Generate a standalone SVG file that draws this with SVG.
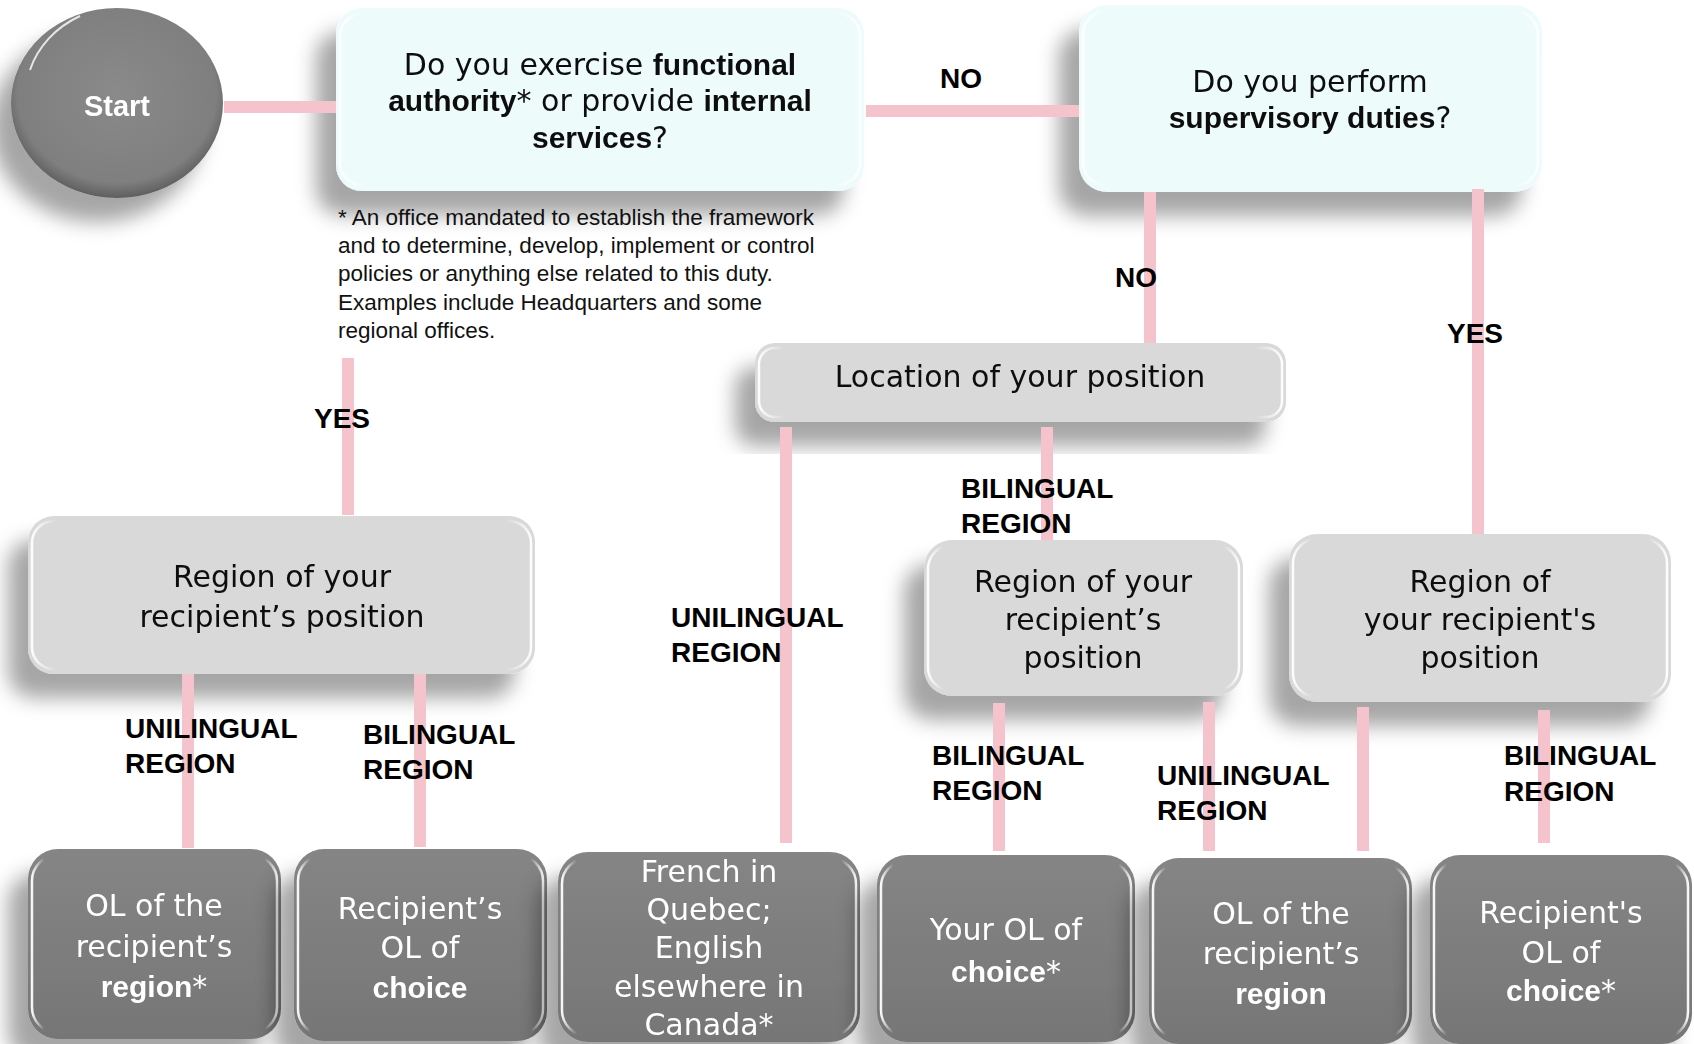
<svg xmlns="http://www.w3.org/2000/svg" width="1694" height="1044" viewBox="0 0 1694 1044">
<defs>
<filter id="sh" x="-30%" y="-30%" width="160%" height="170%">
<feGaussianBlur in="SourceAlpha" stdDeviation="10"/>
<feOffset dx="-20" dy="24" result="b"/>
<feFlood flood-color="#000" flood-opacity="0.35"/>
<feComposite in2="b" operator="in"/>
<feMerge><feMergeNode/><feMergeNode in="SourceGraphic"/></feMerge>
</filter>
<linearGradient id="hl" x1="0" x2="1" y1="0" y2="0">
<stop offset="0" stop-color="#fff" stop-opacity="0.95"/>
<stop offset="0.05" stop-color="#fff" stop-opacity="0"/>
<stop offset="0.95" stop-color="#fff" stop-opacity="0"/>
<stop offset="1" stop-color="#fff" stop-opacity="0.95"/>
</linearGradient>
<linearGradient id="dk" x1="0" x2="0" y1="0" y2="1">
<stop offset="0" stop-color="#858585"/>
<stop offset="1" stop-color="#767676"/>
</linearGradient>
<radialGradient id="cg" cx="0.5" cy="0.45" r="0.55">
<stop offset="0" stop-color="#8a8a8a"/>
<stop offset="0.85" stop-color="#7f7f7f"/>
<stop offset="1" stop-color="#5f5f5f"/>
</radialGradient>
<style>
.q{fill:#EEFBFB;}
.lg{fill:#D9D9D9;}
.dg{fill:url(#dk);}
.gl{fill:none;stroke:url(#hl);stroke-width:2.5;}
.r{font-family:"DejaVu Sans",sans-serif;font-size:30px;fill:#111;text-anchor:middle;}
.w{fill:#fff;}
.b{font-family:"Liberation Sans",Arial,sans-serif;font-weight:bold;}
.lbl{font-family:"Liberation Sans",Arial,sans-serif;font-weight:bold;font-size:28px;fill:#000;}
.fn{font-family:"Liberation Sans",Arial,sans-serif;font-size:22.5px;fill:#111;}
.c{fill:none;stroke:#F5C3CB;stroke-width:12;}
</style>
</defs>
<rect width="1694" height="1044" fill="#fff"/>

<g id="start" filter="url(#sh)">
<ellipse cx="117" cy="103" rx="106" ry="95" fill="url(#cg)"/>
<path d="M30 70 A100 90 0 0 1 80 16" fill="none" stroke="#fff" stroke-opacity="0.8" stroke-width="2"/>
<text x="117" y="116" class="b" font-size="29" fill="#fff" text-anchor="middle">Start</text>
</g>

<g id="q1" filter="url(#sh)">
<rect x="336" y="8" width="528" height="183" rx="26" class="q"/>
<rect x="340" y="14" width="520" height="171" rx="22" class="gl"/>
<text x="600" y="75" class="r">Do you exercise <tspan class="b">functional</tspan></text>
<text x="600" y="111" class="r"><tspan class="b">authority</tspan>* or provide <tspan class="b">internal</tspan></text>
<text x="600" y="148" class="r"><tspan class="b">services</tspan>?</text>
</g>

<g id="footnote">
<text x="338" y="225" class="fn">* An office mandated to establish the framework</text>
<text x="338" y="253" class="fn">and to determine, develop, implement or control</text>
<text x="338" y="281" class="fn">policies or anything else related to this duty.</text>
<text x="338" y="310" class="fn">Examples include Headquarters and some</text>
<text x="338" y="338" class="fn">regional offices.</text>
</g>

<g id="q2" filter="url(#sh)">
<rect x="1079" y="5" width="463" height="187" rx="28" class="q"/>
<rect x="1083" y="11" width="455" height="175" rx="24" class="gl"/>
<text x="1310" y="92" class="r">Do you perform</text>
<text x="1310" y="128" class="r"><tspan class="b">supervisory duties</tspan>?</text>
</g>

<g id="location" filter="url(#sh)">
<rect x="755" y="343" width="531" height="79" rx="20" class="lg"/>
<rect x="759" y="348" width="523" height="69" rx="16" class="gl"/>
<text x="1020" y="387" class="r" font-size="31">Location of your position</text>
</g>

<g id="region1" filter="url(#sh)">
<rect x="28" y="516" width="507" height="158" rx="26" class="lg"/>
<rect x="32" y="521" width="499" height="148" rx="22" class="gl"/>
<text x="282" y="587" class="r">Region of your</text>
<text x="282" y="627" class="r">recipient’s position</text>
</g>

<g id="region2" filter="url(#sh)">
<rect x="924" y="540" width="319" height="156" rx="28" class="lg"/>
<rect x="928" y="545" width="311" height="146" rx="24" class="gl"/>
<text x="1083" y="592" class="r">Region of your</text>
<text x="1083" y="630" class="r">recipient’s</text>
<text x="1083" y="668" class="r">position</text>
</g>

<g id="region3" filter="url(#sh)">
<rect x="1289" y="534" width="382" height="168" rx="28" class="lg"/>
<rect x="1293" y="539" width="374" height="158" rx="24" class="gl"/>
<text x="1480" y="592" class="r">Region of</text>
<text x="1480" y="630" class="r">your recipient's</text>
<text x="1480" y="668" class="r">position</text>
</g>

<g id="out1" filter="url(#sh)">
<rect x="28" y="849" width="253" height="190" rx="30" class="dg"/>
<rect x="32" y="855" width="245" height="178" rx="26" class="gl"/>
<text x="154" y="916" class="r w">OL of the</text>
<text x="154" y="957" class="r w">recipient’s</text>
<text x="154" y="997" class="r w"><tspan class="b">region</tspan>*</text>
</g>

<g id="out2" filter="url(#sh)">
<rect x="294" y="849" width="253" height="192" rx="30" class="dg"/>
<rect x="298" y="855" width="245" height="180" rx="26" class="gl"/>
<text x="420" y="919" class="r w">Recipient’s</text>
<text x="420" y="958" class="r w">OL of</text>
<text x="420" y="998" class="r w"><tspan class="b">choice</tspan></text>
</g>

<g id="out3" filter="url(#sh)">
<rect x="558" y="852" width="302" height="190" rx="30" class="dg"/>
<rect x="562" y="858" width="294" height="178" rx="26" class="gl"/>
<text x="709" y="882" class="r w">French in</text>
<text x="709" y="920" class="r w">Quebec;</text>
<text x="709" y="958" class="r w">English</text>
<text x="709" y="997" class="r w">elsewhere in</text>
<text x="709" y="1035" class="r w">Canada*</text>
</g>

<g id="out4" filter="url(#sh)">
<rect x="877" y="855" width="258" height="187" rx="30" class="dg"/>
<rect x="881" y="861" width="250" height="175" rx="26" class="gl"/>
<text x="1006" y="940" class="r w">Your OL of</text>
<text x="1006" y="982" class="r w"><tspan class="b">choice</tspan>*</text>
</g>

<g id="out5" filter="url(#sh)">
<rect x="1149" y="858" width="263" height="186" rx="30" class="dg"/>
<rect x="1153" y="864" width="255" height="174" rx="26" class="gl"/>
<text x="1281" y="924" class="r w">OL of the</text>
<text x="1281" y="964" class="r w">recipient’s</text>
<text x="1281" y="1004" class="r w"><tspan class="b">region</tspan></text>
</g>

<g id="out6" filter="url(#sh)">
<rect x="1430" y="855" width="262" height="189" rx="30" class="dg"/>
<rect x="1434" y="861" width="254" height="177" rx="26" class="gl"/>
<text x="1561" y="923" class="r w">Recipient's</text>
<text x="1561" y="963" class="r w">OL of</text>
<text x="1561" y="1001" class="r w"><tspan class="b">choice</tspan>*</text>
</g>

<g id="connectors">
<path class="c" d="M224 107 H336"/>
<path class="c" d="M866 111 H1079"/>
<path class="c" d="M348 358 V515"/>
<path class="c" d="M1150 192 V343"/>
<path class="c" d="M1478 189 V534"/>
<path class="c" d="M786 427 V843"/>
<path class="c" d="M1047 427 V540"/>
<path class="c" d="M188 674 V848"/>
<path class="c" d="M420 674 V847"/>
<path class="c" d="M999 703 V851"/>
<path class="c" d="M1209 702 V851"/>
<path class="c" d="M1363 707 V851"/>
<path class="c" d="M1544 710 V843"/>
</g>

<g id="labels">
<text x="961" y="88" class="lbl" text-anchor="middle">NO</text>
<text x="1136" y="287" class="lbl" text-anchor="middle">NO</text>
<text x="1475" y="343" class="lbl" text-anchor="middle">YES</text>
<text x="342" y="428" class="lbl" text-anchor="middle">YES</text>
<text x="671" y="627" class="lbl">UNILINGUAL</text>
<text x="671" y="662" class="lbl">REGION</text>
<text x="961" y="498" class="lbl">BILINGUAL</text>
<text x="961" y="533" class="lbl">REGION</text>
<text x="125" y="738" class="lbl">UNILINGUAL</text>
<text x="125" y="773" class="lbl">REGION</text>
<text x="363" y="744" class="lbl">BILINGUAL</text>
<text x="363" y="779" class="lbl">REGION</text>
<text x="932" y="765" class="lbl">BILINGUAL</text>
<text x="932" y="800" class="lbl">REGION</text>
<text x="1157" y="785" class="lbl">UNILINGUAL</text>
<text x="1157" y="820" class="lbl">REGION</text>
<text x="1504" y="765" class="lbl">BILINGUAL</text>
<text x="1504" y="801" class="lbl">REGION</text>
</g>
</svg>
